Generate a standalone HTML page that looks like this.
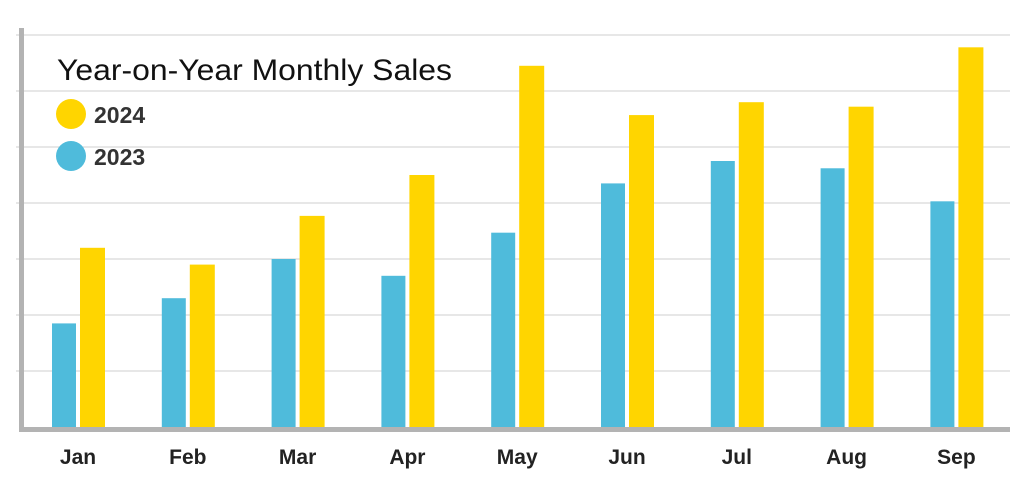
<!DOCTYPE html>
<html><head><meta charset="utf-8"><style>
body{margin:0;background:#fff;width:1024px;height:478px;overflow:hidden;font-family:"Liberation Sans",sans-serif}
</style></head><body>
<svg id="chart" width="1024" height="478" xmlns="http://www.w3.org/2000/svg">
<g id="grid"></g>
<g id="bars"></g>
<g id="labels"></g>
<rect x="19" y="28" width="5" height="404" fill="#b3b3b3"/>
<rect x="19" y="427" width="991" height="5" fill="#b3b3b3"/>
<text x="57" y="80" font-size="30" textLength="395" lengthAdjust="spacingAndGlyphs" fill="#111">Year-on-Year Monthly Sales</text>
<circle cx="71" cy="114" r="15" fill="#ffd500"/>
<text x="94" y="123" font-size="23" font-weight="bold" fill="#333">2024</text>
<circle cx="71" cy="156" r="15" fill="#4fbbdb"/>
<text x="94" y="165" font-size="23" font-weight="bold" fill="#333">2023</text>
</svg>
<script>
const months=["Jan","Feb","Mar","Apr","May","Jun","Jul","Aug","Sep"];
const sales2023=[1.85,2.3,3.0,2.7,3.47,4.35,4.75,4.62,4.03];
const sales2024=[3.2,2.9,3.77,4.5,6.45,5.57,5.8,5.72,6.78];
const gridTicks=[1,2,3,4,5,6,7];
const ns="http://www.w3.org/2000/svg";
const y0=427,unit=56;
function y(v){return y0-v*unit;}
function x(i){return 52+i*109.8;}
function mk(t,a,p){const e=document.createElementNS(ns,t);for(const k in a)e.setAttribute(k,a[k]);p.appendChild(e);return e;}
const grid=document.getElementById('grid'),bars=document.getElementById('bars'),labels=document.getElementById('labels');
gridTicks.forEach(t=>{
 const l=mk('line',{x1:16,x2:1010,y1:y(t),y2:y(t),stroke:'#cfcfcf','stroke-width':1},grid);
 
 
});
months.forEach((m,i)=>{
 const b=mk('rect',{x:x(i),y:y(sales2023[i]),width:24,height:sales2023[i]*unit,fill:'#4fbbdb'},bars);
 
 
 const c=mk('rect',{x:x(i)+28,y:y(sales2024[i]),width:25,height:sales2024[i]*unit,fill:'#ffd500'},bars);
 
 
 const t=mk('text',{x:x(i)+26,y:464,'text-anchor':'middle','font-size':21,'font-weight':'bold',fill:'#222'},labels);
 t.textContent=m;
 
 
});
</script>
</body></html>
